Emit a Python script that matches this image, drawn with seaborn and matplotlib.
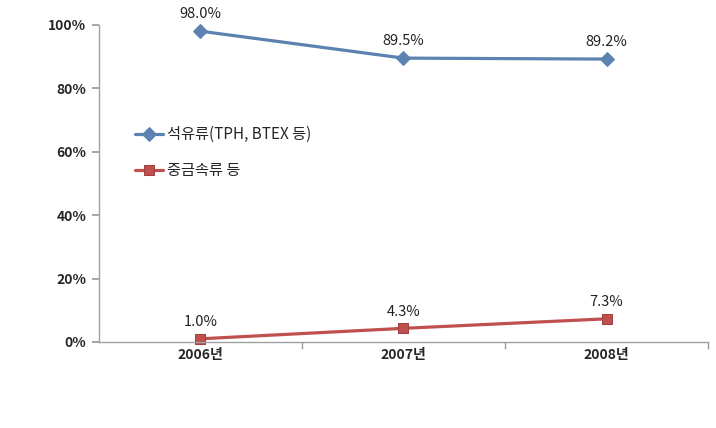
import seaborn as sns
import matplotlib.pyplot as plt
import pandas as pd

years = ['2006년', '2007년', '2008년']
oil = [98.0, 89.5, 89.2]
metal = [1.0, 4.3, 7.3]
oil_name = '석유류(TPH, BTEX 등)'
metal_name = '중금속류 등'

sns.set_theme(style='white')
plt.rcParams['font.family'] = ['Noto Sans CJK KR', 'DejaVu Sans']

df = pd.DataFrame({'x': range(len(years)), 'oil': oil, 'metal': metal})

fig = plt.figure(figsize=(7.16, 4.28), dpi=100)
ax = fig.add_axes([0.138, 0.201, 0.851, 0.741])

sns.lineplot(data=df, x='x', y='oil', ax=ax, color='#5B82B0', lw=2.3,
             marker='D', markersize=7, markeredgecolor='#5B82B0', label=oil_name)
sns.lineplot(data=df, x='x', y='metal', ax=ax, color='#C0504D', lw=2.3,
             marker='s', markersize=7, markeredgecolor='#A04040', label=metal_name)

# data labels
for i, v in enumerate(oil):
    ax.annotate(f'{v:.1f}%', (i, v), xytext=(0, 7), textcoords='offset points',
                ha='center', va='bottom', fontsize=10.5, color='#222222')
for i, v in enumerate(metal):
    ax.annotate(f'{v:.1f}%', (i, v), xytext=(0, 7), textcoords='offset points',
                ha='center', va='bottom', fontsize=10.5, color='#222222')

ax.set_xlim(-0.5, 2.5)
ax.set_ylim(0, 100)
ax.set_yticks([0, 20, 40, 60, 80, 100])
ax.set_yticklabels([f'{t}%' for t in [0, 20, 40, 60, 80, 100]], fontsize=10, fontweight='bold')
ax.set_xticks(range(len(years)))
ax.set_xticklabels(years, fontsize=10, fontweight='bold')
ax.set_xticks([0.5, 1.5, 2.5], minor=True)
ax.tick_params(axis='x', which='major', length=0, pad=4)
ax.tick_params(axis='x', which='minor', length=5, color='#999999', direction='out', bottom=True)
ax.tick_params(axis='y', length=5, color='#999999', direction='out', left=True, pad=4)
ax.set_xlabel('')
ax.set_ylabel('')

for s in ['top', 'right']:
    ax.spines[s].set_visible(False)
for s in ['left', 'bottom']:
    ax.spines[s].set_color('#A0A0A0')
    ax.spines[s].set_linewidth(1)
for line in ax.lines:
    line.set_clip_on(False)

leg = ax.legend(loc='upper left', bbox_to_anchor=(0.05, 0.7), frameon=False,
                fontsize=11, handlelength=1.8, handletextpad=0.3,
                labelspacing=1.25, borderaxespad=0)

fig.savefig('out.png', dpi=100)
